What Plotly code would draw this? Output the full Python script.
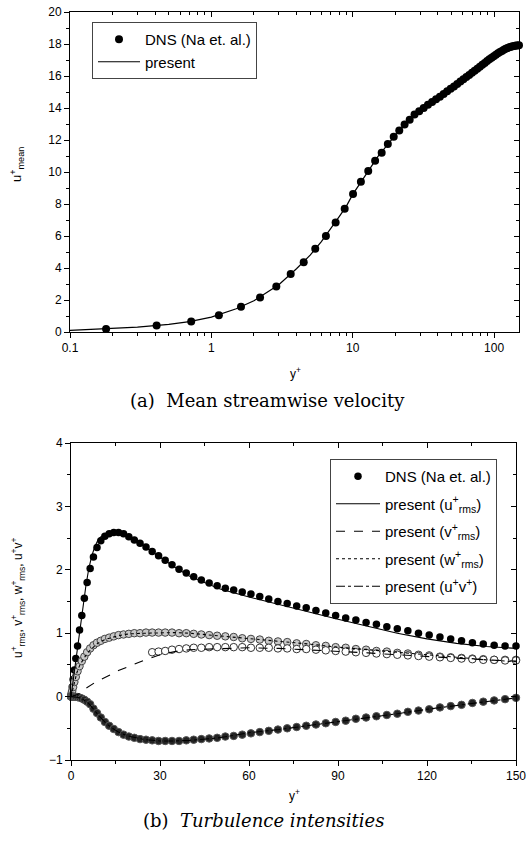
import plotly.graph_objects as go

# ---------------- DNS grid (wall units) ----------------
dns_yplus = [0.0, 0.045, 0.18, 0.41, 0.72, 1.13, 1.62, 2.21, 2.88, 3.64, 4.50,
             5.43, 6.46, 7.57, 8.77, 10.05, 11.42, 12.87, 14.40, 16.02, 17.71,
             19.49, 21.34, 23.27, 25.28, 27.36, 29.52, 31.75, 34.05, 36.42, 38.86,
             41.36, 43.93, 46.57, 49.27, 52.02, 54.84, 57.72, 60.65, 63.63, 66.66,
             69.75, 72.88, 76.07, 79.29, 82.56, 85.87, 89.21, 92.60, 96.02, 99.47,
             102.95, 106.46, 109.99, 113.55, 117.13, 120.74, 124.36, 127.99, 131.64,
             135.30, 138.97, 142.64, 146.32, 150.0]

# ---------------- (a) mean streamwise velocity ----------------
dns_umean_yplus = dns_yplus[2:]
dns_umean = [0.19, 0.40, 0.66, 1.05, 1.58, 2.15, 2.84, 3.62, 4.36, 5.2, 6.0,
             6.85, 7.7, 8.63, 9.39, 10.06, 10.7, 11.2, 11.75, 12.2, 12.6, 12.97,
             13.27, 13.6, 13.8, 14.0, 14.2, 14.38, 14.55, 14.7, 14.88, 15.05, 15.2,
             15.35, 15.5, 15.65, 15.8, 15.93, 16.07, 16.2, 16.33, 16.46, 16.58,
             16.7, 16.82, 16.93, 17.04, 17.14, 17.24, 17.33, 17.42, 17.5, 17.57,
             17.64, 17.7, 17.75, 17.79, 17.83, 17.86, 17.88, 17.9, 17.91, 17.92]

present_umean_yplus = [0.1, 0.2, 0.3, 0.5, 0.7, 1, 1.5, 2, 3, 4, 5, 6, 7, 8, 9,
                       10, 12, 15, 20, 25, 30, 40, 50, 70, 100, 130, 150]
present_umean = [0.1, 0.2, 0.3, 0.48, 0.65, 0.93, 1.45, 1.95, 2.95, 3.95, 4.8,
                 5.65, 6.45, 7.2, 7.85, 8.6, 9.65, 10.95, 12.3, 13.25, 13.85,
                 14.63, 15.25, 16.2, 17.25, 17.81, 17.92]

# ---------------- (b) turbulence intensities ----------------
dns_urms = [0.0, 0.02, 0.07, 0.15, 0.27, 0.42, 0.6, 0.8, 1.05, 1.28, 1.55, 1.8,
            2.02, 2.2, 2.35, 2.46, 2.53, 2.57, 2.59, 2.59, 2.57, 2.52, 2.47, 2.42,
            2.36, 2.29, 2.22, 2.15, 2.08, 2.01, 1.95, 1.89, 1.84, 1.79, 1.75, 1.71,
            1.68, 1.65, 1.62, 1.58, 1.54, 1.5, 1.47, 1.43, 1.40, 1.36, 1.32, 1.28,
            1.24, 1.21, 1.17, 1.14, 1.1, 1.07, 1.04, 1.0, 0.97, 0.94, 0.91, 0.88,
            0.85, 0.83, 0.81, 0.8, 0.8]

dns_wrms = [0.0, 0.01, 0.04, 0.09, 0.15, 0.23, 0.31, 0.4, 0.48, 0.56, 0.63, 0.7,
            0.76, 0.81, 0.85, 0.88, 0.91, 0.93, 0.95, 0.97, 0.98, 0.99, 1.0, 1.0,
            1.01, 1.01, 1.01, 1.01, 1.01, 1.0, 1.0, 0.99, 0.98, 0.97, 0.96, 0.95,
            0.94, 0.92, 0.91, 0.9, 0.88, 0.87, 0.86, 0.84, 0.83, 0.81, 0.8, 0.78,
            0.77, 0.75, 0.74, 0.72, 0.71, 0.69, 0.68, 0.66, 0.65, 0.63, 0.62, 0.61,
            0.6, 0.59, 0.58, 0.58, 0.58]

dns_vrms_yplus = dns_yplus[25:]
dns_vrms = [0.7, 0.71, 0.72, 0.74, 0.75, 0.76, 0.77, 0.77, 0.78, 0.78, 0.78,
            0.78, 0.78, 0.77, 0.77, 0.77, 0.76, 0.76, 0.75, 0.75, 0.74, 0.73,
            0.72, 0.71, 0.7, 0.69, 0.68, 0.67, 0.66, 0.65, 0.64, 0.63, 0.62,
            0.61, 0.6, 0.59, 0.58, 0.58, 0.57, 0.57]

dns_uv = [0.0, 0.0, 0.0, 0.0, 0.0, -0.001, -0.003, -0.008, -0.016, -0.03, -0.05,
          -0.08, -0.12, -0.19, -0.26, -0.33, -0.4, -0.46, -0.51, -0.56, -0.6,
          -0.63, -0.65, -0.67, -0.68, -0.69, -0.7, -0.7, -0.7, -0.7, -0.69,
          -0.68, -0.67, -0.66, -0.65, -0.63, -0.62, -0.6, -0.58, -0.56, -0.54,
          -0.52, -0.5, -0.48, -0.46, -0.44, -0.42, -0.40, -0.38, -0.35, -0.33,
          -0.31, -0.29, -0.27, -0.24, -0.22, -0.2, -0.17, -0.15, -0.13, -0.1,
          -0.08, -0.06, -0.04, -0.02]

present_yplus = [0, 1, 2, 3, 4, 5, 6, 7, 8, 9, 10, 12, 14, 16, 18, 20, 25, 30,
                 35, 40, 50, 60, 70, 80, 90, 100, 110, 120, 130, 140, 150]
present_urms = [0, 0.36, 0.72, 1.07, 1.42, 1.74, 2.02, 2.22, 2.36, 2.46, 2.52,
                2.58, 2.59, 2.58, 2.55, 2.51, 2.36, 2.2, 2.04, 1.9, 1.7, 1.57,
                1.45, 1.34, 1.22, 1.11, 1.0, 0.91, 0.84, 0.79, 0.76]
present_vrms = [0, 0.01, 0.03, 0.05, 0.08, 0.13, 0.16, 0.2, 0.23, 0.25, 0.27,
                0.31, 0.36, 0.41, 0.45, 0.49, 0.58, 0.66, 0.71, 0.74, 0.76, 0.77,
                0.76, 0.74, 0.72, 0.69, 0.66, 0.63, 0.6, 0.58, 0.56]
present_wrms = [0, 0.2, 0.38, 0.5, 0.58, 0.65, 0.71, 0.76, 0.8, 0.84, 0.87,
                0.91, 0.94, 0.96, 0.98, 0.99, 1.0, 1.01, 1.01, 1.0, 0.96, 0.91,
                0.87, 0.83, 0.78, 0.74, 0.69, 0.65, 0.61, 0.58, 0.55]
present_uv = [0, 0, -0.01, -0.02, -0.04, -0.07, -0.11, -0.16, -0.22, -0.28,
              -0.33, -0.43, -0.5, -0.56, -0.6, -0.63, -0.68, -0.7, -0.7, -0.69,
              -0.65, -0.57, -0.52, -0.46, -0.4, -0.33, -0.27, -0.2, -0.14,
              -0.07, -0.02]

# tick positions / labels
a_xticks = [0.1, 1, 10, 100]
a_xlabels = ["0.1", "1", "10", "100"]
b_xticks = [0, 30, 60, 90, 120, 150]

# ---------------- figure ----------------
W, H = 528, 845
SANS = "Liberation Sans, Arial, sans-serif"
SERIF = "DejaVu Serif, serif"


def px_x(p):
    return p / W


def px_y(p):
    return 1 - p / H


fig = go.Figure()

# (a) traces
fig.add_trace(go.Scatter(
    x=dns_umean_yplus, y=dns_umean, mode="markers", name="DNS (Na et. al.)",
    marker=dict(symbol="circle", size=8, color="black"),
    xaxis="x", yaxis="y", legend="legend", cliponaxis=False))
fig.add_trace(go.Scatter(
    x=present_umean_yplus, y=present_umean, mode="lines", name="present",
    line=dict(color="black", width=1.2), xaxis="x", yaxis="y", legend="legend"))

# (b) traces
fig.add_trace(go.Scatter(
    x=dns_yplus, y=dns_urms, mode="markers", name="DNS (Na et. al.)",
    marker=dict(symbol="circle", size=7.5, color="black"),
    xaxis="x2", yaxis="y2", legend="legend2", legendgroup="g0", cliponaxis=False))
fig.add_trace(go.Scatter(
    x=dns_yplus, y=dns_wrms, mode="markers", showlegend=False,
    marker=dict(symbol="circle", size=7.5, color="#c8c8c8",
                line=dict(color="#444", width=1)),
    xaxis="x2", yaxis="y2", legend="legend2", cliponaxis=False))
fig.add_trace(go.Scatter(
    x=dns_vrms_yplus, y=dns_vrms, mode="markers", showlegend=False,
    marker=dict(symbol="circle", size=7.5, color="white",
                line=dict(color="#333", width=1)),
    xaxis="x2", yaxis="y2", legend="legend2", cliponaxis=False))
fig.add_trace(go.Scatter(
    x=dns_yplus, y=dns_uv, mode="markers", showlegend=False,
    marker=dict(symbol="circle", size=7.5, color="#222",
                line=dict(color="#555", width=1)),
    xaxis="x2", yaxis="y2", legend="legend2", cliponaxis=False))

line_specs = [
    (present_urms, "solid", "present (u<sup>+</sup><sub>rms</sub>)", "g1"),
    (present_vrms, "dash", "present (v<sup>+</sup><sub>rms</sub>)", "g2"),
    (present_wrms, "dot", "present (w<sup>+</sup><sub>rms</sub>)", "g3"),
    (present_uv, "dashdot", "present (u<sup>+</sup>v<sup>+</sup>)", "g4"),
]
for vals, dash, label, grp in line_specs:
    fig.add_trace(go.Scatter(
        x=present_yplus, y=vals, mode="lines", name=label,
        line=dict(color="black", width=1.1, dash=dash),
        xaxis="x2", yaxis="y2", legend="legend2", legendgroup=grp))

# empty traces that carry the inward ticks on top/right frames
for xa, ya in (("x3", "y3"), ("x4", "y4")):
    fig.add_trace(go.Scatter(x=[], y=[], mode="lines", showlegend=False,
                             hoverinfo="skip", xaxis=xa, yaxis=ya))

dom_a_x = [px_x(70), px_x(519)]
dom_a_y = [px_y(332), px_y(12)]
dom_b_x = [px_x(71), px_x(516)]
dom_b_y = [px_y(760), px_y(443)]

tickfont = dict(family=SANS, size=12, color="black")
axis_common = dict(showline=True, linecolor="black", linewidth=1, mirror=True,
                   showgrid=False, zeroline=False, ticks="outside", ticklen=5,
                   tickcolor="black", tickfont=tickfont,
                   ticklabeloverflow="allow", automargin=False)
inner_common = dict(showticklabels=False, ticks="inside", ticklen=5,
                    tickcolor="black", showgrid=False, zeroline=False,
                    automargin=False)

log_range = [-1, 2.1761]
b_xrange = [0, 150.001]

fig.update_layout(
    width=W, height=H, margin=dict(l=0, r=0, t=0, b=0, autoexpand=False),
    paper_bgcolor="white", plot_bgcolor="white", showlegend=True,
    xaxis=dict(domain=dom_a_x, anchor="y", type="log", range=log_range,
               tickvals=a_xticks, ticktext=a_xlabels,
               minor=dict(ticks="outside", ticklen=3, dtick="D1",
                          tickcolor="black"),
               **axis_common),
    yaxis=dict(domain=dom_a_y, anchor="x", range=[0, 20], dtick=2,
               minor=dict(ticks="outside", ticklen=3, dtick=1,
                          tickcolor="black"),
               **axis_common),
    xaxis3=dict(overlaying="x", anchor="y", side="top", type="log",
                range=log_range, tickvals=a_xticks,
                minor=dict(ticks="inside", ticklen=3, dtick="D1",
                           tickcolor="black"),
                **inner_common),
    yaxis3=dict(overlaying="y", anchor="x", side="right", range=[0, 20],
                dtick=2,
                minor=dict(ticks="inside", ticklen=3, dtick=1,
                           tickcolor="black"),
                **inner_common),
    xaxis2=dict(domain=dom_b_x, anchor="y2", range=b_xrange,
                tickvals=b_xticks,
                minor=dict(ticks="outside", ticklen=3, dtick=15,
                           tickcolor="black"),
                **axis_common),
    yaxis2=dict(domain=dom_b_y, anchor="x2", range=[-1, 4], dtick=1,
                minor=dict(ticks="outside", ticklen=3, dtick=0.5,
                           tickcolor="black"),
                **axis_common),
    xaxis4=dict(overlaying="x2", anchor="y2", side="top", range=b_xrange,
                tickvals=b_xticks,
                minor=dict(ticks="inside", ticklen=3, dtick=15,
                           tickcolor="black"),
                **inner_common),
    yaxis4=dict(overlaying="y2", anchor="x2", side="right", range=[-1, 4],
                dtick=1,
                minor=dict(ticks="inside", ticklen=3, dtick=0.5,
                           tickcolor="black"),
                **inner_common),
    legend=dict(x=px_x(92), y=px_y(22), xanchor="left", yanchor="top",
                bgcolor="white", bordercolor="#444", borderwidth=1,
                font=dict(family=SANS, size=15, color="black"),
                itemwidth=42, tracegroupgap=0),
    legend2=dict(x=px_x(330), y=px_y(459), xanchor="left", yanchor="top",
                 bgcolor="white", bordercolor="#444", borderwidth=1,
                 font=dict(family=SANS, size=15, color="black"),
                 itemwidth=44, tracegroupgap=5, traceorder="grouped"),
)

annotations = [
    # axis titles
    dict(text="u<sup>+</sup><sub>mean</sub>", x=px_x(17), y=px_y(165),
         textangle=-90, font=dict(family=SANS, size=13)),
    dict(text="y<sup>+</sup>", x=px_x(295), y=px_y(373),
         font=dict(family=SANS, size=12)),
    dict(text="u<sup>+</sup><sub>rms</sub>, v<sup>+</sup><sub>rms</sub>, "
              "w<sup>+</sup><sub>rms</sub>, u<sup>+</sup>v<sup>+</sup>",
         x=px_x(18), y=px_y(598), textangle=-90,
         font=dict(family=SANS, size=12)),
    dict(text="y<sup>+</sup>", x=px_x(294), y=px_y(795),
         font=dict(family=SANS, size=12)),
    # captions
    dict(text="(a)  Mean streamwise velocity", x=px_x(267), y=px_y(401),
         font=dict(family=SERIF, size=18)),
    dict(text="(b)  <i>Turbulence intensities</i>", x=px_x(264), y=px_y(820),
         font=dict(family=SERIF, size=18)),
]
for a in annotations:
    a.update(xref="paper", yref="paper", showarrow=False,
             xanchor="center", yanchor="middle")
    a["font"]["color"] = "black"
fig.update_layout(annotations=annotations)

fig.write_html("out.html")
